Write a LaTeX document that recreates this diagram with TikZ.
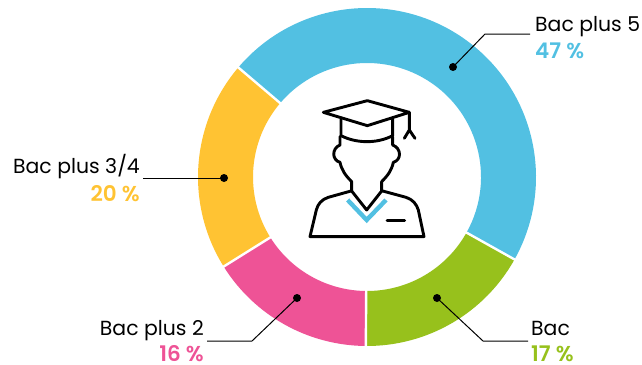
\documentclass[tikz,border=0pt]{standalone}
\usepackage{fontspec}
\setmainfont[BoldFont={Poppins SemiBold}]{Poppins}
\definecolor{cblue}{HTML}{52C0E2}
\definecolor{cyellow}{HTML}{FFC333}
\definecolor{cpink}{HTML}{EE5396}
\definecolor{cgreen}{HTML}{97C11C}
\newcommand{\ringseg}[3]{\fill[#1] (#2:169) arc[start angle=#2,end angle=#3,radius=169] -- (#3:114) arc[start angle=#3,end angle=#2,radius=114] -- cycle;}
\tikzset{
  lbl/.style={font=\fontsize{20.4}{22}\selectfont,text=black,inner sep=0pt},
  pct/.style={font=\fontsize{21.5}{22}\selectfont\bfseries,inner sep=0pt},
  dotm/.style={circle,fill=black,inner sep=0pt,minimum size=8pt},
  leader/.style={draw=black,line width=1pt},
  icon/.style={draw=black,line width=2.9pt,line join=round,line cap=round},
  seam/.style={draw=white,line width=2.4pt}
}
\begin{document}
\begin{tikzpicture}[x=1pt,y=-1pt]
\useasboundingbox (0,0) rectangle (642,364);
\begin{scope}[shift={(367,177)},x=1pt,y=1pt]
\ringseg{cblue}{139.6}{-29.2}
\ringseg{cgreen}{-29.2}{-90.4}
\ringseg{cpink}{-90.4}{-148}
\ringseg{cyellow}{-148}{-220.4}
\foreach \a in {139.6,-29.2,-90.4,-148}{\draw[seam] (\a:112) -- (\a:171);}
\end{scope}
% icon, in 3x zoom coordinates
\begin{scope}[shift={(290,85)},x=0.3333pt,y=-0.3333pt]
\draw[draw=cblue,line width=4.4pt] (173,345) -- (230,405) -- (288,345);
\draw[icon] (232,47) -- (100,82) -- (232,122) -- (358,82) -- cycle;
\draw[icon] (153,103) -- (153,152) .. controls (200,176) and (262,176) .. (308,152) -- (308,103);
\draw[icon] (358,82) -- (358,135) (343,160) -- (358,135) -- (375,160);
\draw[icon] (150,155) -- (150,180) .. controls (125,190) and (125,225) .. (150,232)
  .. controls (155,255) and (165,270) .. (185,290) -- (185,318)
  -- (230,375) -- (275,318) -- (275,290)
  .. controls (295,270) and (305,255) .. (310,232)
  .. controls (335,225) and (335,190) .. (308,180) -- (308,155);
\draw[icon] (183,318) -- (115,337) .. controls (95,343) and (83,358) .. (79,375) -- (60,455) -- (402,455) -- (385,375)
  .. controls (380,358) and (368,343) .. (348,337) -- (278,318);
\draw[icon] (291,407) -- (344,407);
\end{scope}
% labels
\node[lbl,anchor=base west] (t5) at (535,31.5) {Bac plus 5};
\node[pct,anchor=base west,text=cblue] (p5) at (535,58) {47 \%};
\node[lbl,anchor=base east] (t34) at (140,173) {Bac plus 3/4};
\node[pct,anchor=base east,text=cyellow] (p34) at (140,201) {20 \%};
\node[lbl,anchor=base east] (t2) at (204,335) {Bac plus 2};
\node[pct,anchor=base east,text=cpink] (p2) at (204,361) {16 \%};
\node[lbl,anchor=base west] (t0) at (531,335) {Bac};
\node[pct,anchor=base west,text=cgreen] (p0) at (531,361) {17 \%};
% leaders
\node[dotm] (d5) at (453,67) {};
\node[dotm] (d34) at (224,178) {};
\node[dotm] (d2) at (297,298) {};
\node[dotm] (d0) at (437,298) {};
\coordinate (e5) at (485,34); \coordinate (f5) at (530,34);
\coordinate (f34) at (143,178);
\coordinate (e2) at (252,341); \coordinate (f2) at (207,341);
\coordinate (e0) at (483,341); \coordinate (f0) at (528,341);
\draw[leader] (d5.center) -- (e5) -- (f5);
\draw[leader] (d34.center) -- (f34);
\draw[leader] (d2.center) -- (e2) -- (f2);
\draw[leader] (d0.center) -- (e0) -- (f0);
\end{tikzpicture}
\end{document}
